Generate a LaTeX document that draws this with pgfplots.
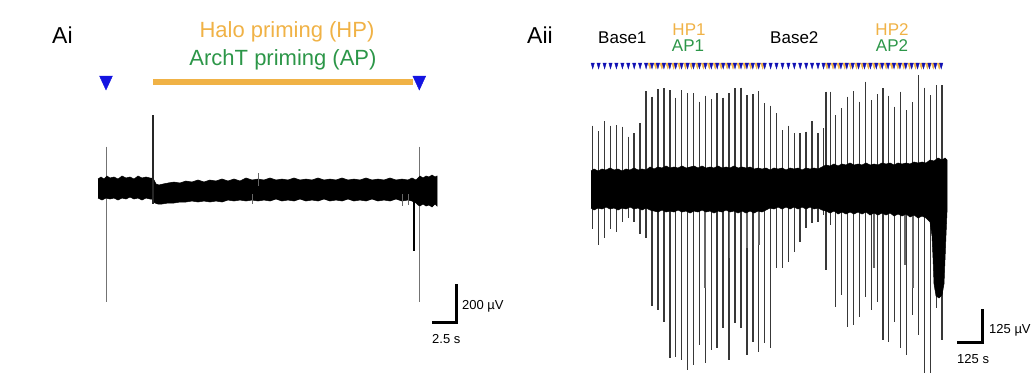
\documentclass[border=0pt]{standalone}
\usepackage{fontspec}
\setmainfont{Liberation Sans}
\usepackage{pgfplots}
\usepackage{pgfplotstable}
\pgfplotsset{compat=1.18}
\definecolor{halo}{RGB}{240,178,70}
\definecolor{arch}{RGB}{44,150,72}
\definecolor{stimblue}{RGB}{20,20,225}

% Ai: large transients (x, top, bottom) in picture units
\pgfplotstableread{
x top bot
106 146.7 301.7
419.3 146.7 301.7
}\spikesAiThin
\pgfplotstableread{
x top bot
153 115 204
}\spikesAiDark
\pgfplotstableread{
x top bot
414 186 251
}\spikesAiNeg
\pgfplotstableread{
x top bot
258 173 186
252 194 204
402 194 206
408 194 205
}\spikesAiSmall

% Aii: responses to each stimulus (x, top, bottom)
\pgfplotstableread{
x top bot
592.7 125.7 229
598.6 131 245
604.6 121 238
610.5 125.7 229
616.4 125 231.7
622.4 126.7 221.7
628.3 136.7 218
634.2 133.3 221.7
640.1 123.3 234.3
646.1 91 238.3
652 96.7 305.7
657.9 89 310
663.9 88.3 321.7
669.8 90 357.7
675.7 97.7 356.7
681.6 90 360
687.6 93.3 370
693.5 93.3 365
699.4 101.7 345
705.4 95.7 363.3
711.3 99 350
717.2 93.3 348.3
723.2 97.7 328.3
729.1 93.3 360
735 88.3 323.3
741 87.7 328.3
746.9 95 355
752.8 94.3 341.7
758.7 91 351.7
764.7 103.3 343.3
770.6 105.7 348.3
776.5 113.3 268.3
782.5 130 268.3
788.4 125.7 261.7
794.3 133.3 251.7
800.2 133.3 241.7
806.2 131.7 228.3
812.1 121 223.3
818 133.3 221.7
823.5 128.3 215
826 91.7 270
830.7 91.7 225
835.7 115 306.7
841.7 108.3 295
847.7 96.7 326.7
853.7 91 325
859.7 101.7 316.7
865.7 81.7 296.7
871.7 100 310
877.7 94.3 301.7
883 88.3 340
888.7 95.7 341.7
894.7 106.7 321.7
900.7 91.7 348.3
906.7 110 355
912.7 102.3 315
918.7 75 335
924.7 87.7 373.3
930.7 95 373.3
936.7 85 308.3
942 85 340
}\spikesAii
\pgfplotstableread{
x top bot
705 205 288
729.5 205 258
747 205 248
759 205 245
874 205 268
905 205 265
913 205 288
}\spikesAiiShort
% stimulus markers
\pgfplotstableread{
x y
592.7 65
598.6 65
604.6 65
610.5 65
616.4 65
622.4 65
628.3 65
634.2 65
640.1 65
646.1 65
652 65
657.9 65
663.9 65
669.8 65
675.7 65
681.6 65
687.6 65
693.5 65
699.4 65
705.4 65
711.3 65
717.2 65
723.2 65
729.1 65
735 65
741 65
746.9 65
752.8 65
758.7 65
764.7 65
770.6 65
776.5 65
782.5 65
788.4 65
794.3 65
800.2 65
806.2 65
812.1 65
818 65
823.5 65
829 65
835 65
840.9 65
846.8 65
852.7 65
858.6 65
864.5 65
870.4 65
876.3 65
882.2 65
888.1 65
894 65
899.9 65
905.8 65
911.7 65
917.6 65
923.5 65
929.4 65
935.3 65
941.2 65
}\stimAii
\pgfplotstableread{
x y
650 65
655.9 65
661.9 65
667.8 65
673.7 65
679.6 65
685.6 65
691.5 65
697.4 65
703.4 65
709.3 65
715.2 65
721.2 65
727.1 65
733 65
739 65
744.9 65
750.8 65
756.7 65
762.7 65
827 65
833 65
838.9 65
844.8 65
850.7 65
856.6 65
862.5 65
868.4 65
874.3 65
880.2 65
886.1 65
892 65
897.9 65
903.8 65
909.7 65
915.6 65
921.5 65
927.4 65
933.3 65
939.2 65
}\lightAii

\begin{document}
\begin{tikzpicture}
\begin{axis}[scale only axis, width=1035pt, height=378pt,
  xmin=0, xmax=1035, ymin=0, ymax=378, y dir=reverse,
  hide axis, clip=false]

% ---------------- Ai ----------------
\addplot[halo, line width=6.5pt] coordinates {(153,82) (413,82)};
\addplot[only marks, mark=triangle*, mark size=9.3pt,
  mark options={rotate=180, xscale=0.8, fill=stimblue, draw=stimblue}]
  coordinates {(106,80.7) (419.3,80.7)};

\addplot[black!55, line width=0.9pt, quiver={u=0, v=\thisrow{bot}-\thisrow{top}}]
  table[x=x, y=top] {\spikesAiThin};
\addplot[fill=black, draw=black, line width=0.5pt] coordinates {
(98,179) (101,177) (104,179) (107,176) (110,178) (114,177) (118,179) (122,176) (126,178) (130,177) (134,179) (138,176) (142,178) (146,177) (150,178) (152,178)
(154,180) (156,184) (159,185) (163,184) (168,183) (174,182) (180,183) (186,181) (192,182) (198,180) (204,182) (210,180) (216,181) (222,179) (228,181) (234,179) (240,181) (246,178) (252,180) (258,179) (264,180) (270,178) (276,180) (282,179) (288,180) (294,178) (300,180) (306,179) (312,180) (318,178) (324,180) (330,179) (336,180) (342,178) (348,180) (354,179) (360,180) (366,178) (372,180) (378,179) (384,180) (390,178) (396,180) (402,179) (408,180) (412,178) (414,179) (416,180) (418,178)
(420,176) (423,178) (426,176) (429,177) (432,175) (435,177) (437,176)
(437,206) (435,204) (432,207) (429,205) (426,206) (423,204) (420,206) (418,205) (416,203) (412,201) (408,200) (402,201) (396,199) (390,201) (384,200) (378,201) (372,199) (366,201) (360,200) (354,201) (348,199) (342,201) (336,200) (330,201) (324,199) (318,201) (312,200) (306,201) (300,199) (294,201) (288,200) (282,201) (276,199) (270,201) (264,200) (258,201) (252,200) (246,201) (240,200) (234,201) (228,200) (222,202) (216,201) (210,202) (204,201) (198,202) (192,201) (186,202) (180,202) (174,203) (168,203) (162,204) (158,204) (155,203) (153,201) (152,199) (150,199) (146,198) (142,200) (138,198) (134,199) (130,197) (126,199) (122,198) (118,200) (114,198) (110,199) (106,198) (102,200) (98,198)
};
\addplot[black!85, line width=1.6pt, quiver={u=0, v=\thisrow{bot}-\thisrow{top}}]
  table[x=x, y=top] {\spikesAiDark};
\addplot[black, line width=1.9pt, quiver={u=0, v=\thisrow{bot}-\thisrow{top}}]
  table[x=x, y=top] {\spikesAiNeg};
\addplot[black!60, line width=0.8pt, quiver={u=0, v=\thisrow{bot}-\thisrow{top}}]
  table[x=x, y=top] {\spikesAiSmall};

\addplot[black, line width=3pt] coordinates {(432,322) (456,322) (456,284)};

\node[anchor=base west, inner sep=0, font=\fontsize{23}{27}\selectfont] at (axis cs:52,43) {Ai};
\node[anchor=base, inner sep=0, text=halo, font=\fontsize{22}{26}\selectfont] at (axis cs:287,37.7) {Halo priming (HP)};
\node[anchor=base, inner sep=0, text=arch, font=\fontsize{22}{26}\selectfont] at (axis cs:283,65) {ArchT priming (AP)};
\node[anchor=base west, inner sep=0, font=\fontsize{13}{15}\selectfont] at (axis cs:462,309.5) {200 µV};
\node[anchor=base west, inner sep=0, font=\fontsize{13}{15}\selectfont] at (axis cs:432,343) {2.5 s};

% ---------------- Aii ----------------
\addplot[only marks, mark=triangle*, mark size=4pt,
  mark options={rotate=180, xscale=0.6, fill=halo, draw=halo}]
  table[x=x, y=y] {\lightAii};
\addplot[only marks, mark=triangle*, mark size=3.8pt,
  mark options={rotate=180, xscale=0.5, fill=stimblue!80!black, draw=stimblue!80!black}]
  table[x=x, y=y] {\stimAii};

\addplot[black!78, line width=1.5pt, quiver={u=0, v=\thisrow{bot}-\thisrow{top}}]
  table[x=x, y=top] {\spikesAii};
\addplot[black!60, line width=1.2pt, quiver={u=0, v=\thisrow{bot}-\thisrow{top}}]
  table[x=x, y=top] {\spikesAiiShort};
\addplot[fill=black, draw=black, line width=0.5pt] coordinates {
(591,171) (594,169) (598,171) (602,169) (606,170) (610,168) (614,170) (618,169) (622,171) (626,169) (630,170) (634,168) (638,170) (642,169) (646,170) (650,167) (654,169) (658,167) (662,168) (666,166) (670,168) (674,167) (678,168) (682,166) (686,168) (690,167) (694,166) (698,168) (702,166) (706,168) (710,167) (714,168) (718,166) (722,168) (726,167) (730,168) (734,166) (738,168) (742,167) (746,168) (750,167) (754,169) (758,168) (762,169) (766,168) (770,170) (774,168) (778,169) (782,168) (786,170) (790,168) (794,169) (798,168) (802,170) (806,168) (810,169) (814,168) (818,169) (822,167) (826,165) (830,166) (834,164) (838,166) (842,164) (846,165) (850,163) (854,165) (858,164) (862,165) (866,163) (870,165) (874,164) (878,165) (882,163) (886,164) (890,163) (894,165) (898,163) (902,164) (906,163) (910,164) (914,162) (918,163) (922,162) (926,163) (930,160) (934,161) (938,158) (942,160) (945,158) (947,160)
(947,212) (946,235) (944,284) (942,295) (939,298) (936,296) (934,284) (933,258) (932,236) (930,222) (926,218) (922,216) (918,218) (914,215) (910,217) (906,214) (902,216) (898,214) (894,216) (890,213) (886,215) (882,213) (878,215) (874,213) (870,215) (866,212) (862,214) (858,212) (854,214) (850,212) (846,214) (842,212) (838,214) (834,211) (830,213) (826,211) (822,210) (818,208) (814,209) (810,207) (806,209) (802,207) (798,209) (794,207) (790,209) (786,207) (782,209) (778,207) (774,209) (770,208) (766,210) (762,212) (758,211) (754,213) (750,211) (746,213) (742,211) (738,213) (734,211) (730,212) (726,210) (722,212) (718,211) (714,213) (710,211) (706,212) (702,210) (698,212) (694,211) (690,213) (686,211) (682,212) (678,210) (674,212) (670,211) (666,212) (662,210) (658,212) (654,211) (650,210) (646,208) (642,210) (638,208) (634,209) (630,207) (626,209) (622,208) (618,210) (614,208) (610,209) (606,207) (602,209) (598,208) (594,210) (591,208)
};

\addplot[black, line width=3pt] coordinates {(957,342) (982,342) (982,309)};

\node[anchor=base west, inner sep=0, font=\fontsize{23}{27}\selectfont] at (axis cs:527,43) {Aii};
\node[anchor=base west, inner sep=0, font=\fontsize{17}{20}\selectfont] at (axis cs:598,43.3) {Base1};
\node[anchor=base west, inner sep=0, font=\fontsize{17}{20}\selectfont] at (axis cs:770,43.3) {Base2};
\node[anchor=base, inner sep=0, text=halo, font=\fontsize{17}{20}\selectfont] at (axis cs:689,35) {HP1};
\node[anchor=base, inner sep=0, text=arch, font=\fontsize{17}{20}\selectfont] at (axis cs:688,51.7) {AP1};
\node[anchor=base, inner sep=0, text=halo, font=\fontsize{17}{20}\selectfont] at (axis cs:892,35) {HP2};
\node[anchor=base, inner sep=0, text=arch, font=\fontsize{17}{20}\selectfont] at (axis cs:892,51.7) {AP2};
\node[anchor=base west, inner sep=0, font=\fontsize{13}{15}\selectfont] at (axis cs:989,333) {125 µV};
\node[anchor=base west, inner sep=0, font=\fontsize{13}{15}\selectfont] at (axis cs:957,363) {125 s};
\end{axis}
\pgfresetboundingbox
\path[use as bounding box] (current axis.south west) rectangle (current axis.north east);
\end{tikzpicture}
\end{document}
